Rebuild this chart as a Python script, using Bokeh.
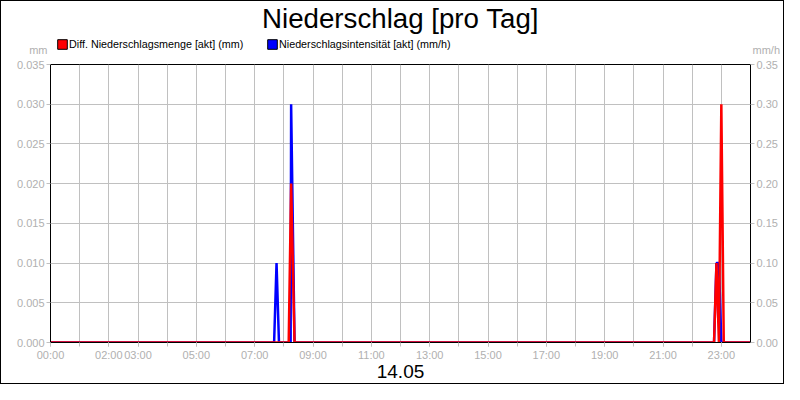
from bokeh.plotting import figure
from bokeh.layouts import column
from bokeh.models import (Range1d, LinearAxis, FixedTicker, Legend, LegendItem, Label,
                          PrintfTickFormatter, ColumnDataSource)
from bokeh.core.properties import value
from bokeh.embed import file_html
from bokeh.resources import INLINE

# ---------------- data ----------------
TITLE = "Niederschlag [pro Tag]"
DATE_LABEL = "14.05"
SERIES_MENGE = "Diff. Niederschlagsmenge [akt] (mm)"
SERIES_INT = "Niederschlagsintensität [akt] (mm/h)"
UNIT_LEFT = "mm"
UNIT_RIGHT = "mm/h"

MENGE_TIMES = ["00:00", "08:10", "08:15", "08:22", "22:45", "22:50", "22:55", "23:00", "23:05", "24:00"]
MENGE_VALUES = [0.0, 0.0, 0.020, 0.0, 0.0, 0.010, 0.0, 0.030, 0.0, 0.0]

INT_TIMES = ["00:00", "07:40", "07:45", "07:50", "08:14", "08:15", "08:22",
             "22:45", "22:50", "22:55", "23:00", "24:00"]
INT_VALUES = [0.0, 0.0, 0.10, 0.0, 0.0, 0.30, 0.0, 0.0, 0.10, 0.10, 0.0, 0.0]

X_LABEL_HOURS = [0, 2, 3, 5, 7, 9, 11, 13, 15, 17, 19, 21, 23]
X_GRID_HOURS = list(range(24))
Y_TICKS_MM = [0.000, 0.005, 0.010, 0.015, 0.020, 0.025, 0.030, 0.035]
Y_TICKS_MMH = [0.00, 0.05, 0.10, 0.15, 0.20, 0.25, 0.30, 0.35]


def to_hours(t):
    h, m = t.split(":")
    return int(h) + int(m) / 60.0


FONT = "Liberation Sans"
GRAY_TXT = "#b0b0b0"
GRAY_LINE = "#c0c0c0"
W = 782
ML, MR = 49, 33
HEAD_H = 55            # header strip (title, legend, units)
MAIN_H = 382 - HEAD_H  # chart area
NAN = float("nan")

# ---------------- header strip ----------------
head = figure(width=W, height=HEAD_H, output_backend="svg", toolbar_location=None,
              x_range=Range1d(0, 1), y_range=Range1d(0, HEAD_H),
              x_axis_type=None, y_axis_type=None,
              min_border_left=ML, min_border_right=MR, min_border_top=0, min_border_bottom=0)
head.outline_line_color = None
head.background_fill_color = "white"
head.border_fill_color = "white"
head.grid.visible = False

sw_red = head.quad(left=[NAN], right=[NAN], top=[NAN], bottom=[NAN],
                   fill_color="#ff0000", line_color="black")
sw_blue = head.quad(left=[NAN], right=[NAN], top=[NAN], bottom=[NAN],
                    fill_color="#0000ff", line_color="black")


def one_item_legend(label, rend, loc):
    return Legend(items=[LegendItem(label=value(label), renderers=[rend])], location=loc,
                  orientation="horizontal", margin=0, padding=0, spacing=0,
                  glyph_width=12, glyph_height=12, label_height=12, label_standoff=1,
                  border_line_alpha=0, background_fill_alpha=0,
                  label_text_font=FONT, label_text_font_size="10.75px", label_text_color="black")


head.add_layout(one_item_legend(SERIES_MENGE, sw_red, (6, 6)))
head.add_layout(one_item_legend(SERIES_INT, sw_blue, (216, 6)))

head.add_layout(Label(x=350, y=37.6, x_units="screen", y_units="screen", text=TITLE,
                      text_align="center", text_baseline="middle",
                      text_font=FONT, text_font_size="27.7px", text_color="black"))

# unit captions as tick labels of the header's own side axes
UNIT_TICK = [7]
for side, text, standoff in (("left", UNIT_LEFT, 3), ("right", UNIT_RIGHT, 2)):
    ua = LinearAxis(ticker=FixedTicker(ticks=UNIT_TICK, minor_ticks=[]),
                    major_label_overrides={UNIT_TICK[0]: text})
    ua.axis_line_color = None
    ua.major_tick_line_color = None
    ua.minor_tick_line_color = None
    ua.major_tick_in = 0
    ua.major_tick_out = 0
    ua.minor_tick_in = 0
    ua.minor_tick_out = 0
    ua.major_label_standoff = standoff
    ua.major_label_text_font = FONT
    ua.major_label_text_font_size = "11px"
    ua.major_label_text_color = GRAY_TXT
    head.add_layout(ua, side)

# ---------------- main chart ----------------
p = figure(width=W, height=MAIN_H, output_backend="svg", toolbar_location=None,
           x_range=Range1d(0, 24), y_range=Range1d(Y_TICKS_MM[0], Y_TICKS_MM[-1]),
           min_border_left=ML, min_border_right=MR, min_border_top=8, min_border_bottom=41)
p.background_fill_color = "white"
p.border_fill_color = "white"
p.outline_line_color = "black"
p.outline_line_width = 1
p.extra_y_ranges = {"int": Range1d(Y_TICKS_MMH[0], Y_TICKS_MMH[-1])}

xa = p.xaxis[0]
xa.ticker = FixedTicker(ticks=X_LABEL_HOURS, minor_ticks=X_GRID_HOURS)
xa.formatter = PrintfTickFormatter(format="%02d:00")
xa.axis_label = DATE_LABEL
xa.axis_label_text_font = FONT
xa.axis_label_text_font_size = "19px"
xa.axis_label_text_font_style = "normal"
xa.axis_label_text_color = "black"
xa.axis_label_standoff = 1

ya = p.yaxis[0]
ya.ticker = FixedTicker(ticks=Y_TICKS_MM, minor_ticks=[])
ya.formatter = PrintfTickFormatter(format="%.3f")

ra = LinearAxis(y_range_name="int", ticker=FixedTicker(ticks=Y_TICKS_MMH, minor_ticks=[]),
                formatter=PrintfTickFormatter(format="%.2f"))
p.add_layout(ra, "right")

for ax in (xa, ya, ra):
    ax.axis_line_color = "black"
    ax.axis_line_width = 1
    ax.major_tick_in = 0
    ax.major_tick_out = 4
    ax.major_tick_line_color = GRAY_LINE
    ax.minor_tick_in = 0
    ax.minor_tick_out = 4
    ax.minor_tick_line_color = GRAY_LINE
    ax.major_label_text_font = FONT
    ax.major_label_text_font_size = "11px"
    ax.major_label_text_color = GRAY_TXT
    ax.major_label_standoff = 2

p.xgrid.ticker = FixedTicker(ticks=X_GRID_HOURS)
p.xgrid.grid_line_color = GRAY_LINE
p.ygrid.ticker = FixedTicker(ticks=Y_TICKS_MM)
p.ygrid.grid_line_color = GRAY_LINE

src_int = ColumnDataSource(dict(x=[to_hours(t) for t in INT_TIMES], y=INT_VALUES))
src_menge = ColumnDataSource(dict(x=[to_hours(t) for t in MENGE_TIMES], y=MENGE_VALUES))
p.line("x", "y", source=src_int, y_range_name="int", line_color="#0000ff", line_width=2.5)
p.line("x", "y", source=src_menge, line_color="#ff0000", line_width=2.5)

layout = column(head, p, spacing=0)
layout.styles = {"border": "1px solid black"}

open("out.html", "w").write(file_html(layout, INLINE))
